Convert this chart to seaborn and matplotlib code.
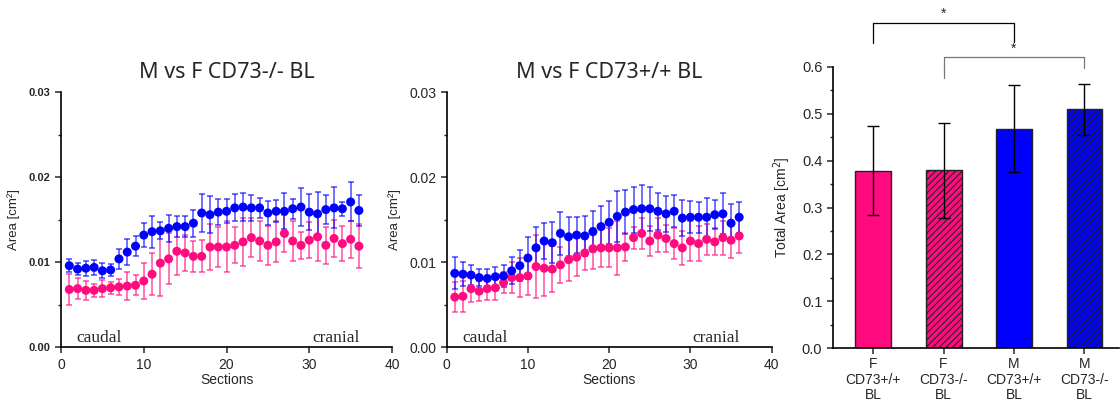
import numpy as np
import pandas as pd
import matplotlib
matplotlib.use("Agg")
import matplotlib.pyplot as plt
import seaborn as sns
from matplotlib.ticker import MultipleLocator

# ---------------- data ----------------
sections = list(range(1, 37))

# CD73-/- (left panel)
ko_m_mean = [9.6, 9.2, 9.3, 9.4, 9.0, 9.1, 10.4, 11.2, 11.9, 13.2, 13.6, 13.7, 14.0, 14.2, 14.2, 14.6,
             15.8, 15.6, 15.9, 16.0, 16.4, 16.5, 16.4, 16.4, 15.8, 16.0, 16.0, 16.3, 16.5, 15.9, 15.7,
             16.2, 16.4, 16.3, 17.1, 16.1]
ko_m_err = [0.75, 0.7, 0.9, 0.9, 0.9, 0.7, 1.2, 1.5, 1.2, 1.4, 1.9, 1.0, 1.6, 1.2, 1.2, 1.6,
            2.2, 2.2, 1.5, 1.4, 1.6, 1.7, 1.5, 1.2, 1.4, 1.3, 2.1, 1.2, 2.2, 2.1, 2.6,
            1.7, 2.4, 0.8, 2.3, 1.8]
ko_f_mean = [6.8, 6.9, 6.7, 6.7, 6.9, 7.0, 7.1, 7.2, 7.3, 7.8, 8.6, 9.9, 10.4, 11.3, 11.1, 10.7,
             10.7, 11.8, 11.8, 11.8, 12.0, 12.4, 12.9, 12.5, 12.0, 12.4, 13.4, 12.5, 12.0, 12.6, 13.0,
             12.0, 12.8, 12.2, 12.7, 11.9]
ko_f_err = [1.8, 1.2, 1.1, 0.8, 1.0, 0.7, 0.9, 1.6, 1.2, 2.1, 2.5, 3.9, 3.0, 2.8, 2.1, 1.8,
            1.9, 2.7, 2.4, 3.0, 2.1, 2.8, 2.3, 2.3, 2.3, 2.4, 2.2, 2.3, 1.6, 2.1, 2.8,
            2.2, 2.2, 2.1, 2.2, 2.6]

# CD73+/+ (middle panel)
wt_m_mean = [8.7, 8.6, 8.5, 8.2, 8.1, 8.3, 8.4, 9.0, 9.6, 10.5, 11.7, 12.5, 12.3, 13.4, 13.0, 13.2,
             13.1, 13.6, 14.2, 14.7, 15.4, 15.9, 16.2, 16.3, 16.3, 16.0, 15.7, 16.0, 15.2, 15.3, 15.3,
             15.3, 15.6, 15.7, 14.6, 15.3]
wt_m_err = [1.9, 1.4, 1.2, 1.0, 1.1, 1.2, 1.3, 1.6, 1.8, 2.5, 2.5, 2.1, 2.4, 2.5, 2.3, 2.1,
            2.4, 2.4, 2.4, 2.5, 3.0, 2.6, 2.7, 2.8, 2.6, 2.2, 2.1, 1.9, 2.1, 1.9, 1.8,
            2.3, 1.7, 2.4, 2.2, 1.8]
wt_f_mean = [5.9, 6.0, 6.9, 6.6, 6.9, 7.0, 7.6, 8.2, 8.2, 8.4, 9.5, 9.3, 9.2, 9.7, 10.3, 10.6,
             11.1, 11.6, 11.7, 11.7, 11.7, 11.8, 12.9, 13.4, 12.5, 13.2, 12.8, 12.2, 11.7, 12.5, 12.2,
             12.7, 12.4, 12.9, 12.6, 13.1]
wt_f_err = [1.8, 1.8, 1.6, 1.2, 1.3, 1.4, 1.2, 1.8, 2.3, 2.2, 3.7, 3.3, 2.7, 2.1, 2.5, 2.2,
            2.0, 2.4, 2.3, 2.3, 3.2, 1.6, 1.3, 1.8, 1.8, 2.0, 1.6, 1.8, 2.0, 2.3, 2.1,
            1.8, 1.6, 2.0, 2.1, 2.0]

# Total area bars
bar_labels = ["F\nCD73+/+\nBL", "F\nCD73-/-\nBL", "M\nCD73+/+\nBL", "M\nCD73-/-\nBL"]
bar_values = [0.378, 0.379, 0.468, 0.509]
bar_errors = [0.095, 0.101, 0.092, 0.054]

PINK = "#ff0a7f"
BLUE = "#0000ff"

sns.set_style("ticks")
plt.rcParams["font.family"] = ["Liberation Sans", "DejaVu Sans"]
plt.rcParams["hatch.linewidth"] = 0.8

fig = plt.figure(figsize=(11.2, 4.05), dpi=100)
ax1 = fig.add_axes([0.0545, 0.1425, 0.2955, 0.6296])
ax2 = fig.add_axes([0.3988, 0.1425, 0.2902, 0.6296])
ax3 = fig.add_axes([0.7435, 0.1400, 0.2556, 0.6953])


def line_panel(ax, m_mean, m_err, f_mean, f_err, title, bold_y):
    df = pd.DataFrame({
        "Sections": sections * 2,
        "Area": [v / 1000 for v in f_mean] + [v / 1000 for v in m_mean],
        "err": [v / 1000 for v in f_err] + [v / 1000 for v in m_err],
        "sex": ["F"] * 36 + ["M"] * 36,
    })
    for sex, col in (("F", PINK), ("M", BLUE)):
        d = df[df.sex == sex]
        ax.errorbar(d["Sections"], d["Area"], yerr=d["err"], fmt="none",
                    ecolor=col, alpha=0.6, elinewidth=1.3, capsize=2.5, capthick=1.3, zorder=2)
    sns.scatterplot(data=df, x="Sections", y="Area", hue="sex",
                    palette={"F": PINK, "M": BLUE}, s=42, edgecolor="none",
                    legend=False, ax=ax, zorder=3)
    ax.set_xlim(0, 40)
    ax.set_ylim(0, 0.03)
    ax.set_xticks([0, 10, 20, 30, 40])
    ax.set_yticks([0.0, 0.01, 0.02, 0.03])
    ax.yaxis.set_minor_locator(MultipleLocator(0.005))
    ax.set_yticklabels(["0.00", "0.01", "0.02", "0.03"],
                       fontsize=8 if bold_y else 10,
                       fontweight="bold" if bold_y else "normal")
    ax.tick_params(axis="x", labelsize=10, length=4, width=1.1, direction="out")
    ax.tick_params(axis="y", which="major", length=4, width=1.1)
    ax.tick_params(axis="y", which="minor", length=2.5, width=1.0)
    ax.set_xlabel("Sections", fontsize=10, labelpad=1)
    ax.set_ylabel("Area [cm²]", fontsize=9.5, labelpad=6)
    sns.despine(ax=ax)
    for s in ("left", "bottom"):
        ax.spines[s].set_linewidth(1.2)
        ax.spines[s].set_color("black")
    ax.set_title(title, fontsize=15.5, family=["Noto Sans", "DejaVu Sans"], pad=10)
    ax.text(1.9, 0.0006, "caudal", family=["Liberation Serif"], fontsize=12.5, ha="left", va="baseline")
    ax.text(36.1, 0.0006, "cranial", family=["Liberation Serif"], fontsize=12.5, ha="right", va="baseline")


line_panel(ax1, ko_m_mean, ko_m_err, ko_f_mean, ko_f_err, "M vs F CD73-/- BL", True)
line_panel(ax2, wt_m_mean, wt_m_err, wt_f_mean, wt_f_err, "M vs F CD73+/+ BL", False)

# ---------------- bar panel ----------------
bdf = pd.DataFrame({"group": bar_labels, "value": bar_values})
sns.barplot(data=bdf, x="group", y="value", hue="group",
            palette=[PINK, PINK, BLUE, BLUE], saturation=1, width=0.51, edgecolor="#222222",
            linewidth=1.0, legend=False, ax=ax3, zorder=2)
for i, p in enumerate(ax3.patches):
    if i in (1, 3):
        p.set_hatch("/////")
ax3.errorbar(range(4), bar_values, yerr=bar_errors, fmt="none", ecolor="black",
             elinewidth=1.0, capsize=4, capthick=1.0, zorder=4)
ax3.set_xlim(-0.573, 3.49)
ax3.set_ylim(0, 0.6)
ax3.yaxis.set_minor_locator(MultipleLocator(0.05))
ax3.set_yticks([0, 0.1, 0.2, 0.3, 0.4, 0.5, 0.6])
ax3.set_yticklabels(["0.0", "0.1", "0.2", "0.3", "0.4", "0.5", "0.6"])
ax3.tick_params(axis="y", which="major", labelsize=10.5, length=4, width=1.1)
ax3.tick_params(axis="y", which="minor", length=2.5, width=1.0)
ax3.tick_params(axis="x", labelsize=10, length=4, width=1.1, pad=2.5)
for lab in ax3.get_xticklabels():
    lab.set_linespacing(1.12)
ax3.set_xlabel("")
ax3.set_ylabel("Total Area [cm$^2$]", fontsize=10, labelpad=6)
sns.despine(ax=ax3)
for s in ("left", "bottom"):
    ax3.spines[s].set_linewidth(1.2)
    ax3.spines[s].set_color("black")

# significance brackets
ax3.plot([0, 0, 2, 2], [0.650, 0.6925, 0.6925, 0.652], color="black", lw=0.9, clip_on=False)
ax3.text(1.0, 0.712, "*", ha="center", va="center", fontsize=10)
ax3.plot([1, 1, 3, 3], [0.5766, 0.6207, 0.6207, 0.5966], color="#777777", lw=0.9, clip_on=False)
ax3.text(2.0, 0.638, "*", ha="center", va="center", fontsize=10)

fig.savefig("out.png", dpi=100)
